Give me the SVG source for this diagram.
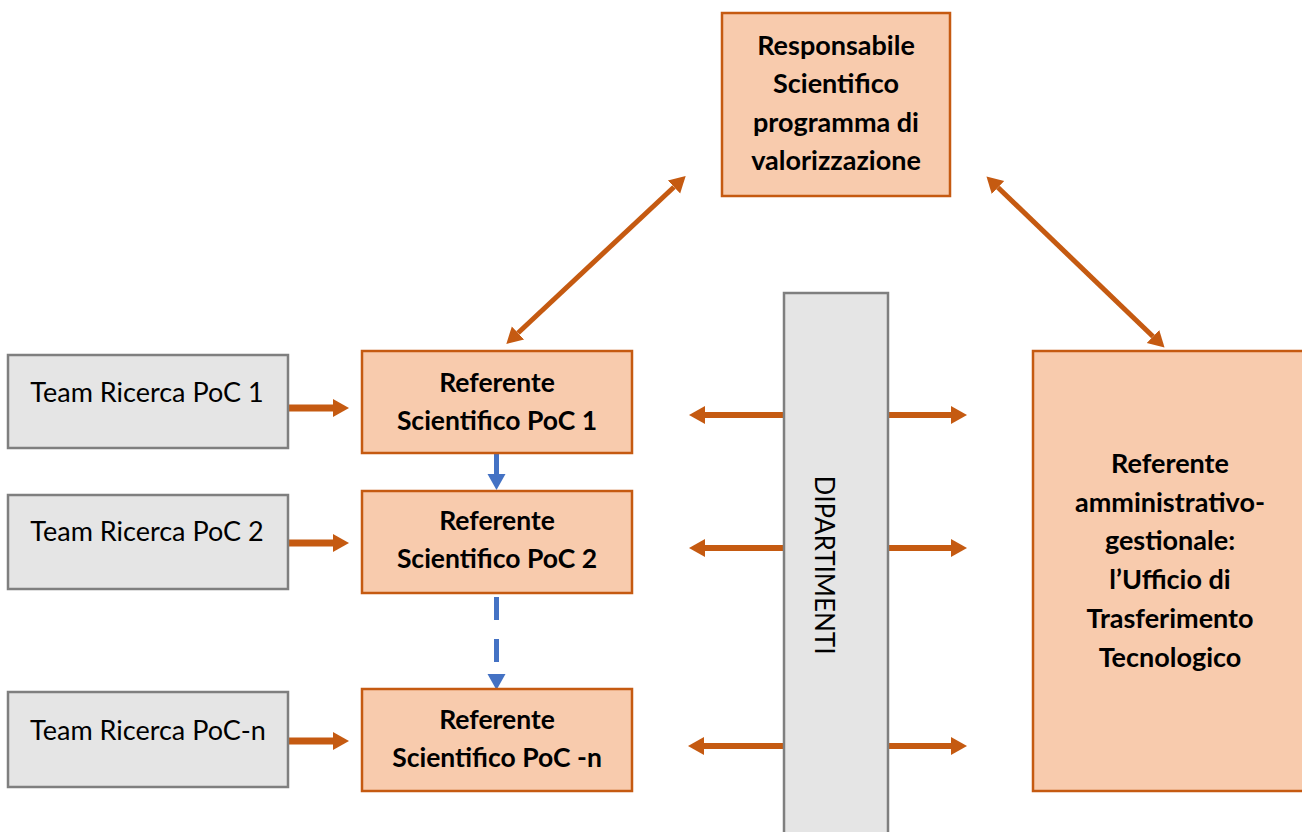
<svg xmlns="http://www.w3.org/2000/svg" width="1302" height="832" viewBox="0 0 1302 832">
  <style>
    .lbl { font-family: Lato, "Liberation Sans", sans-serif; font-size: 27px; fill: #000; text-anchor: middle; }
    .b { font-weight: bold; }
    .sm { font-size: 26.5px; }
    .ref { fill: #F8CBAD; stroke: #C55A11; stroke-width: 2.5; }
    .team { fill: #E5E5E5; stroke: #7F7F7F; stroke-width: 2.5; }
    .org { stroke: #C55A11; fill: none; }
    .blu { stroke: #4472C4; fill: none; stroke-width: 5; }
  </style>
  <defs>
    <marker id="oh" markerUnits="userSpaceOnUse" markerWidth="18" markerHeight="20" viewBox="0 -10 18 20" refX="0" refY="0" orient="auto-start-reverse">
      <path d="M0,-9 L16,0 L0,9 z" fill="#C55A11"/>
    </marker>
    <marker id="bh" markerUnits="userSpaceOnUse" markerWidth="18" markerHeight="20" viewBox="0 -10 18 20" refX="0" refY="0" orient="auto">
      <path d="M0,-9 L16,0 L0,9 z" fill="#4472C4"/>
    </marker>
  </defs>

  <!-- connectors -->
  <g id="connectors">
    <!-- top node to side nodes -->
    <line class="org" stroke-width="5" x1="674" y1="187" x2="518" y2="333" marker-start="url(#oh)" marker-end="url(#oh)"/>
    <line class="org" stroke-width="5" x1="998" y1="187.5" x2="1153" y2="336.5" marker-start="url(#oh)" marker-end="url(#oh)"/>
    <!-- team to referente -->
    <line class="org" stroke-width="7" x1="288" y1="408" x2="333" y2="408" marker-end="url(#oh)"/>
    <line class="org" stroke-width="7" x1="288" y1="543" x2="333" y2="543" marker-end="url(#oh)"/>
    <line class="org" stroke-width="7" x1="288" y1="741" x2="333" y2="741" marker-end="url(#oh)"/>
    <!-- dipartimenti outward -->
    <line class="org" stroke-width="6" x1="784" y1="415" x2="705" y2="415" marker-end="url(#oh)"/>
    <line class="org" stroke-width="6" x1="888" y1="415" x2="951" y2="415" marker-end="url(#oh)"/>
    <line class="org" stroke-width="6" x1="784" y1="548" x2="705" y2="548" marker-end="url(#oh)"/>
    <line class="org" stroke-width="6" x1="888" y1="548" x2="951" y2="548" marker-end="url(#oh)"/>
    <line class="org" stroke-width="6" x1="784" y1="746" x2="704" y2="746" marker-end="url(#oh)"/>
    <line class="org" stroke-width="6" x1="888" y1="746" x2="951" y2="746" marker-end="url(#oh)"/>
    <!-- referente chain -->
    <line class="blu" x1="496.5" y1="453" x2="496.5" y2="474" marker-end="url(#bh)"/>
    <line class="blu" x1="496.5" y1="597" x2="496.5" y2="674" stroke-dasharray="23 19" marker-end="url(#bh)"/>
  </g>

  <g id="responsabile">
    <rect class="ref" x="722" y="13" width="228" height="183"/>
    <text class="lbl b" x="836" y="55">Responsabile</text>
    <text class="lbl b" x="836" y="93">Scientifico</text>
    <text class="lbl b" x="836" y="132">programma di</text>
    <text class="lbl b" x="836" y="170">valorizzazione</text>
  </g>

  <g id="team1">
    <rect class="team" x="8" y="355" width="280" height="93"/>
    <text class="lbl" x="147" y="402">Team Ricerca PoC 1</text>
  </g>
  <g id="team2">
    <rect class="team" x="8" y="495" width="280" height="94"/>
    <text class="lbl" x="147" y="541">Team Ricerca PoC 2</text>
  </g>
  <g id="teamn">
    <rect class="team" x="8" y="692" width="280" height="95"/>
    <text class="lbl" x="148" y="740">Team Ricerca PoC-n</text>
  </g>

  <g id="referente1">
    <rect class="ref" x="362" y="351" width="270" height="102"/>
    <text class="lbl b sm" x="497" y="392">Referente</text>
    <text class="lbl b sm" x="497" y="430">Scientifico PoC 1</text>
  </g>
  <g id="referente2">
    <rect class="ref" x="362" y="491" width="270" height="102"/>
    <text class="lbl b sm" x="497" y="530">Referente</text>
    <text class="lbl b sm" x="497" y="568">Scientifico PoC 2</text>
  </g>
  <g id="referenten">
    <rect class="ref" x="362" y="689" width="270" height="102"/>
    <text class="lbl b sm" x="497" y="729">Referente</text>
    <text class="lbl b sm" x="497" y="767">Scientifico PoC -n</text>
  </g>

  <g id="dipartimenti">
    <rect class="team" x="784" y="293" width="104" height="560"/>
    <text class="lbl" style="font-size:26px" transform="translate(815,565) rotate(90)" x="0" y="0">DIPARTIMENTI</text>
  </g>

  <g id="ufficio-tt">
    <rect class="ref" x="1033" y="351" width="280" height="440"/>
    <text class="lbl b" x="1170" y="473">Referente</text>
    <text class="lbl b" x="1170" y="512">amministrativo-</text>
    <text class="lbl b" x="1170" y="550">gestionale:</text>
    <text class="lbl b" x="1170" y="589">l’Ufficio di</text>
    <text class="lbl b" x="1170" y="628">Trasferimento</text>
    <text class="lbl b" x="1170" y="667">Tecnologico</text>
  </g>
</svg>
